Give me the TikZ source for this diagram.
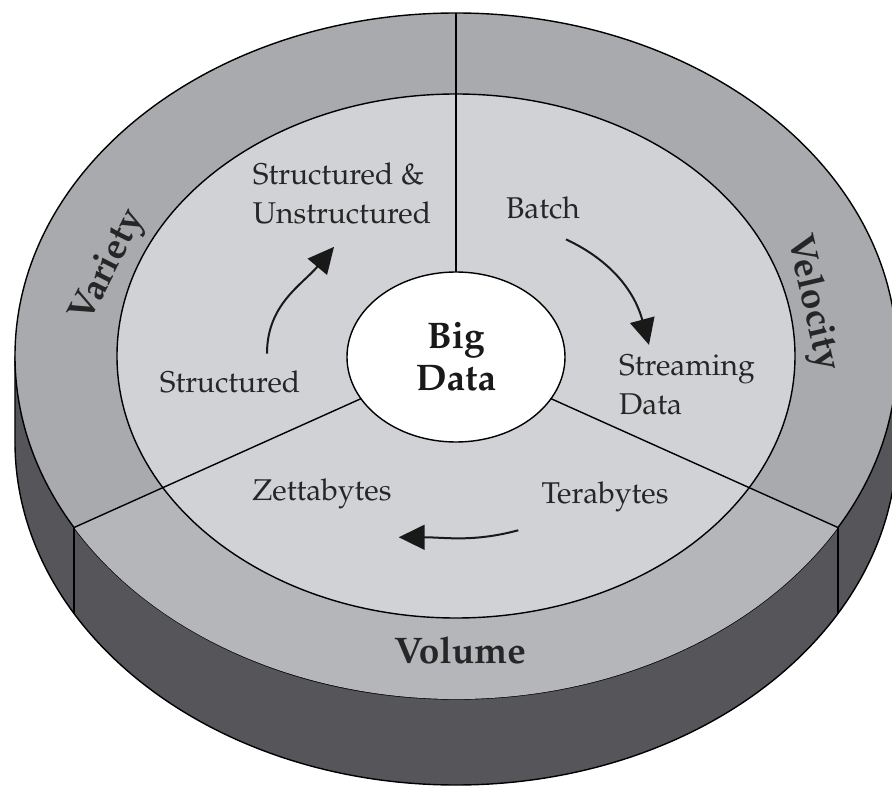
\documentclass[tikz,border=0pt]{standalone}
\usepackage[T1]{fontenc}
\usepackage{palatino}
\usetikzlibrary{arrows.meta,shapes.geometric}

\definecolor{bandgray}{RGB}{168,170,173}
\definecolor{volgray}{RGB}{180,182,185}
\definecolor{facegray}{RGB}{208,210,213}
\definecolor{sidegray}{RGB}{86,86,90}

\begin{document}
\begin{tikzpicture}[x=1pt,y=1pt,
  edge/.style={line width=1.4pt},
  lbl/.style={inner sep=0pt,font=\fontsize{30}{39}\selectfont,text=black!85,align=left},
  band/.style={inner sep=0pt,font=\fontsize{37}{42}\selectfont\bfseries,text=black!85},
  hub/.style={ellipse,draw,edge,fill=white,inner sep=0pt,minimum width=218pt,minimum height=170pt,
    align=center,font=\fontsize{37}{42}\selectfont\bfseries,text=black!90},
  arr/.style={-{Triangle[length=26pt,width=25pt]},line width=2pt,black!90}]
\useasboundingbox (-456,-431) rectangle (436,356);
% side wall of the disc
\fill[sidegray] (-441,0) arc[start angle=180,end angle=360,x radius=441,y radius=343]
  -- (441,-86) arc[start angle=360,end angle=180,x radius=441,y radius=343] -- cycle;
\draw[edge] (-441,0) -- (-441,-86) arc[start angle=180,end angle=360,x radius=441,y radius=343] -- (441,0);
% top face
\filldraw[edge,fill=bandgray] (0,0) ellipse[x radius=441,y radius=343];
\fill[volgray] ({441*cos(210)},{343*sin(210)}) arc[start angle=210,end angle=330,x radius=441,y radius=343]
  -- ({339*cos(330)},{262*sin(330)}) arc[start angle=330,end angle=210,x radius=339,y radius=262] -- cycle;
\filldraw[edge,fill=facegray] (0,0) ellipse[x radius=339,y radius=262];
\foreach \t in {90,210,330}
  \draw[edge] (0,0) -- ({441*cos(\t)},{343*sin(\t)});
\foreach \t in {210,330}
  \draw[edge] ({441*cos(\t)},{343*sin(\t)}) -- ++(0,-86);
\node[hub] (hub) at (0,-1) {Big\\Data};
% labels
\node[band,rotate=63] (variety) at (-347,89) {Variety};
\node[band,rotate=-77] (velocity) at (356,53) {Velocity};
\node[band] (volume) at (4,-294) {Volume};
\node[lbl] (unstr) at (-114,163) {Structured \&\\Unstructured};
\node[lbl] (struct) at (-226,-26) {Structured};
\node[lbl] (batch) at (87,148) {Batch};
\node[lbl,anchor=west] (stream) at (163,-29) {Streaming\\Data};
\node[lbl] (zetta) at (-134,-138) {Zettabytes};
\node[lbl] (tera) at (149,-141) {Terabytes};
% arrows
\draw[arr] ([xshift=37pt,yshift=17pt]struct.north) to[out=90,in=230] ([xshift=-8pt,yshift=-23pt]unstr.south);
\draw[arr] ([xshift=23pt,yshift=-20pt]batch.south) to[out=-25,in=105] ([xshift=-38pt,yshift=10pt]stream.north);
\draw[arr] ([xshift=-23pt,yshift=-18pt]tera.south west) to[out=195,in=0] ([xshift=7pt,yshift=-28pt]zetta.south east);
\end{tikzpicture}
\end{document}
